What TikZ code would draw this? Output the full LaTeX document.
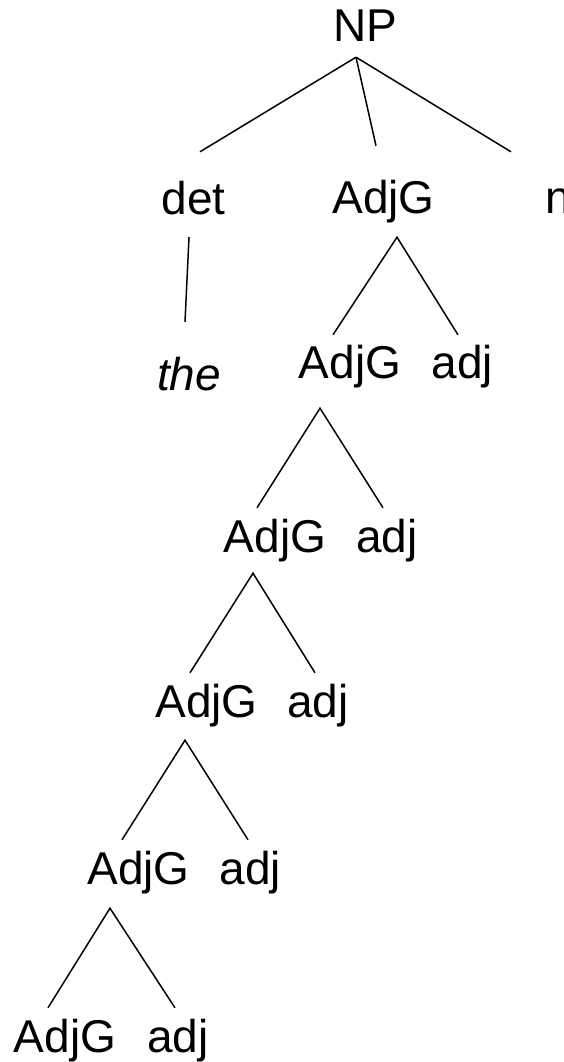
\documentclass[tikz,border=0pt]{standalone}
\usepackage{fontspec}
\setmainfont{Liberation Sans}
\tikzset{
  cat/.style={anchor=base, inner sep=0pt, text height=34pt, text depth=10pt,
    font=\fontsize{46}{55}\selectfont},
  word/.style={cat, font=\fontsize{46}{55}\selectfont\itshape},
  branch/.style={line width=1.5pt, color=black}
}
\begin{document}
\begin{tikzpicture}[x=1pt, y=-1pt]
  \useasboundingbox (0,0) rectangle (563,1062);

  % top level
  \node[cat] (np) at (365,42) {NP};
  \node[cat] (det) at (193.5,214) {det};
  \node[cat] (adjg1) at (383.5,213) {AdjG};
  \node[cat] (n) at (558,213) {n};
  \node[word] (the) at (189,390) {the};

  % stacked adjective groups
  \node[cat] (adjg2) at (350,378) {AdjG};
  \node[cat] (adj2) at (462.5,378) {adj};
  \node[cat] (adjg3) at (275,552) {AdjG};
  \node[cat] (adj3) at (387,552) {adj};
  \node[cat] (adjg4) at (206.5,717) {AdjG};
  \node[cat] (adj4) at (318,717) {adj};
  \node[cat] (adjg5) at (138.5,884) {AdjG};
  \node[cat] (adj5) at (250.5,884) {adj};
  \node[cat] (adjg6) at (65,1052) {AdjG};
  \node[cat] (adj6) at (178,1052) {adj};

  % branches
  \draw[branch] ([xshift=6.5pt, yshift=28pt]det.north) -- ([xshift=-9pt, yshift=-5pt]np.south);
  \draw[branch] ([xshift=-9pt, yshift=-5pt]np.south) -- ([xshift=-7.5pt, yshift=33pt]adjg1.north);
  \draw[branch] ([xshift=-9pt, yshift=-5pt]np.south) -- ([xshift=-47pt, yshift=27pt]n.north);
  \draw[branch] ([xshift=-4.5pt, yshift=-13pt]det.south) -- ([xshift=-4pt, yshift=34pt]the.north);

  \draw[branch] ([xshift=-17pt, yshift=9pt]adjg2.north) -- ([xshift=13.5pt, yshift=-14pt]adjg1.south)
    -- ([xshift=-4.5pt, yshift=9pt]adj2.north);
  \draw[branch] ([xshift=-18pt, yshift=10pt]adjg3.north) -- ([xshift=-30pt, yshift=-20pt]adjg2.south)
    -- ([xshift=-4pt, yshift=10pt]adj3.north);
  \draw[branch] ([xshift=-16.5pt, yshift=10pt]adjg4.north) -- ([xshift=-22pt, yshift=-11pt]adjg3.south)
    -- ([xshift=-3pt, yshift=10pt]adj4.north);
  \draw[branch] ([xshift=-16.5pt, yshift=10pt]adjg5.north) -- ([xshift=-21.5pt, yshift=-13pt]adjg4.south)
    -- ([xshift=-2.5pt, yshift=10pt]adj5.north);
  \draw[branch] ([xshift=-17pt, yshift=10pt]adjg6.north) -- ([xshift=-28.5pt, yshift=-14pt]adjg5.south)
    -- ([xshift=-3pt, yshift=10pt]adj6.north);
\end{tikzpicture}
\end{document}
